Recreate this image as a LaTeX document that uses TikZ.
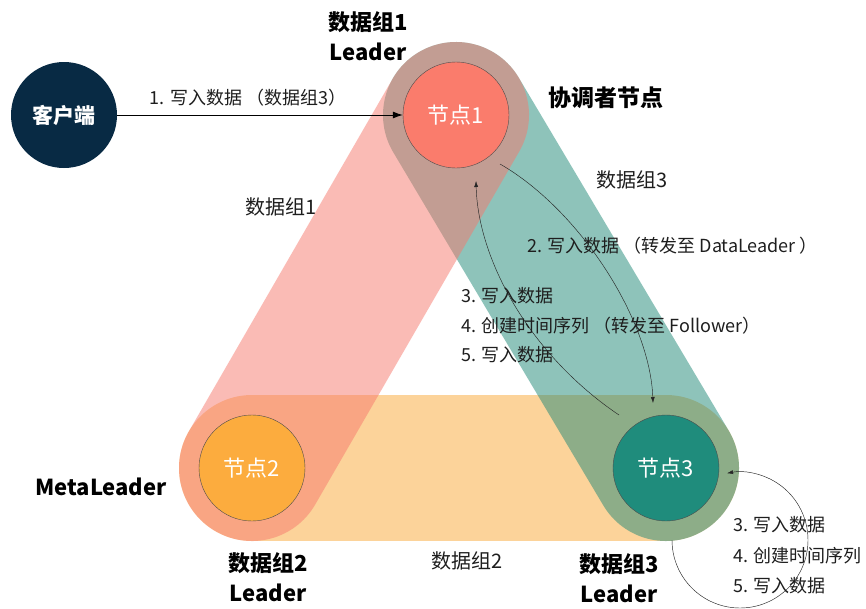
\documentclass[tikz,border=0pt]{standalone}
\usepackage{fontspec}
\setmainfont{Noto Sans CJK SC}
\usetikzlibrary{arrows.meta}
\definecolor{pinkc}{RGB}{247,121,109}
\definecolor{tealc}{RGB}{31,137,119}
\definecolor{orangec}{RGB}{251,169,55}
\definecolor{n1c}{RGB}{250,124,108}
\definecolor{n2c}{RGB}{252,172,62}
\definecolor{n3c}{RGB}{31,140,124}
\definecolor{navy}{RGB}{8,42,68}
\definecolor{txt}{RGB}{30,30,30}
\tikzset{
  band/.style={line width=146pt, line cap=round, draw opacity=0.5},
  nodecirc/.style={circle, minimum size=106pt, inner sep=0pt, draw=black!70, line width=0.4pt, text=white, font=\fontsize{22}{24}\selectfont},
  boldlbl/.style={text=black, font=\bfseries\fontsize{22}{24}\selectfont, inner sep=0pt},
  lbl/.style={text=txt, font=\fontsize{18}{20}\selectfont, inner sep=0pt},
  grplbl/.style={text=txt, font=\fontsize{20}{22}\selectfont, inner sep=0pt},
  thinarrow/.style={draw=black!85, line width=0.45pt, -{Latex[length=6pt,width=4pt]}},
}
\begin{document}
\begin{tikzpicture}[x=1pt,y=-1pt]
\useasboundingbox (0,0) rectangle (866,608);
\fill[white] (0,0) rectangle (866,608);
\coordinate (c1) at (456,115);
\coordinate (c2) at (252,468);
\coordinate (c3) at (666,468);
% bands
\draw[band, draw=orangec] (c2) -- (c3);
\draw[band, draw=tealc] (c1) -- (c3);
\draw[band, draw=pinkc] (c1) -- (c2);
% nodes
\node[nodecirc, fill=navy, draw=none, font=\bfseries\fontsize{21}{23}\selectfont] (cl) at (64,115) {客户端};
\node[nodecirc, fill=n1c] (n1) at (c1) {节点1};
\node[nodecirc, fill=n2c] (n2) at (c2) {节点2};
\node[nodecirc, fill=n3c] (n3) at (c3) {节点3};
% labels
\node[boldlbl] (l1a) at (368,22) {数据组1};
\node[boldlbl] (l1b) at (368,52) {Leader};
\node[boldlbl, font=\bfseries\fontsize{23}{25}\selectfont] (coord) at (606,98) {协调者节点};
\node[boldlbl] (meta) at (101,487) {MetaLeader};
\node[boldlbl] (l2a) at (268,563) {数据组2};
\node[boldlbl] (l2b) at (268,593) {Leader};
\node[boldlbl] (l3a) at (619,564) {数据组3};
\node[boldlbl] (l3b) at (619,594) {Leader};
\node[grplbl] (g1) at (281,207) {数据组1};
\node[grplbl] (g3) at (632,180) {数据组3};
\node[grplbl] (g2) at (467,561) {数据组2};
% arrows
\draw[draw=black, line width=0.8pt, -{Latex[length=10pt,width=7pt]}] (cl) -- (n1)
  node[lbl, midway, above=8pt, xshift=-12pt] (a1) {1. 写入数据 （数据组3）};
\coordinate (s13) at (500,164);
\coordinate (e13) at (653,403);
\draw[thinarrow] (s13) .. controls (580,210) and (650,320) .. (e13);
\coordinate (s31) at (619,415);
\coordinate (e31) at (476,181);
\draw[thinarrow] (s31) .. controls (530,355) and (478,260) .. (e31);
\coordinate (sl) at (672,540);
\draw[thinarrow] (sl) arc[start angle=180, end angle=-101, radius=68];
% step labels
\node[lbl, anchor=west] (t2) at (527,246) {2. 写入数据 （转发至 DataLeader ）};
\node[lbl, anchor=west] (t3) at (461,296) {3. 写入数据};
\node[lbl, anchor=west] (t4) at (461,326) {4. 创建时间序列 （转发至 Follower）};
\node[lbl, anchor=west] (t5) at (461,355) {5. 写入数据};
\node[lbl, anchor=west] (u3) at (733,525) {3. 写入数据};
\node[lbl, anchor=west] (u4) at (733,556) {4. 创建时间序列};
\node[lbl, anchor=west] (u5) at (733,586) {5. 写入数据};
\end{tikzpicture}
\end{document}
